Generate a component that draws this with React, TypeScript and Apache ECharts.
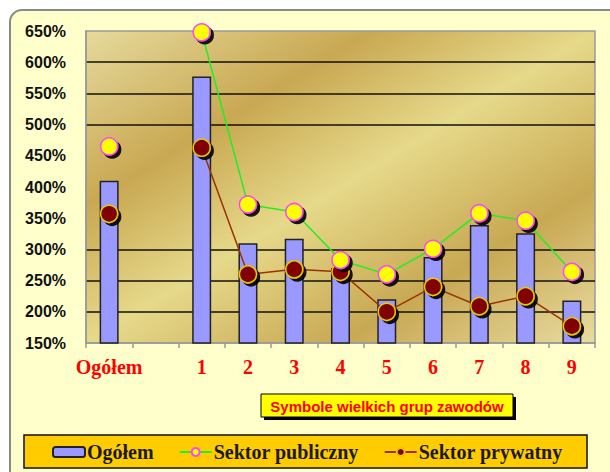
import React, { useEffect, useRef } from "react";
import * as echarts from "echarts";

const CATEGORIES = ["Ogółem", "", "1", "2", "3", "4", "5", "6", "7", "8", "9"];
const OGOLEM = [410, null, 577, 310, 317, 270, 220, 288, 339, 326, 218];
const SEKTOR_PUBLICZNY = [465, null, 648, 372, 360, 283, 260, 301, 358, 346, 264];
const SEKTOR_PRYWATNY = [357, null, 463, 260, 268, 264, 200, 240, 209, 225, 177];
const SERIES_NAMES = ["Ogółem", "Sektor publiczny", "Sektor prywatny"];
const Y_MIN = 150;
const Y_MAX = 650;
const Y_STEP = 50;
const X_TITLE = "Symbole wielkich grup zawodów";

export default function App() {
  const ref = useRef<HTMLDivElement>(null);
  useEffect(() => {
    if (!ref.current) return;
    const chart = echarts.init(ref.current, null, { renderer: "svg" });
    const T = "rgba(0,0,0,0)";
    const G = "#111";
    const markerShadow = {
      shadowColor: "rgba(0,0,0,0.9)",
      shadowBlur: 1,
      shadowOffsetX: 3,
      shadowOffsetY: 3,
    };
    chart.setOption({
      animation: false,
      backgroundColor: "#ffffff",
      graphic: [
        {
          type: "rect",
          z: -10,
          shape: { x: 10, y: 10, width: 640, height: 500, r: 12 },
          style: { fill: "#FFFFCC", stroke: "#8a8a8a", lineWidth: 2 },
          silent: true,
        },
        {
          type: "rect",
          z: 1,
          shape: { x: 264, y: 397, width: 252, height: 23 },
          style: { fill: "#000" },
          silent: true,
        },
        {
          type: "rect",
          z: 2,
          shape: { x: 261, y: 394, width: 252, height: 23 },
          style: { fill: "#FFFF00", stroke: "#000", lineWidth: 1 },
          silent: true,
        },
        {
          type: "text",
          z: 3,
          x: 387,
          y: 406,
          style: {
            text: X_TITLE,
            fill: "#FF0000",
            font: "bold 15px 'Liberation Sans', Arial, sans-serif",
            align: "center",
            verticalAlign: "middle",
          },
          silent: true,
        },
        {
          type: "rect",
          z: 1,
          shape: { x: 24, y: 435, width: 563, height: 33 },
          style: { fill: "#FFCC00", stroke: "#111", lineWidth: 1.5 },
          silent: true,
        },
      ],
      legend: {
        data: SERIES_NAMES,
        left: 47,
        top: 437,
        itemWidth: 32,
        itemHeight: 10,
        itemGap: 25,
        z: 5,
        textStyle: {
          fontFamily: "'Liberation Serif', 'Times New Roman', serif",
          fontWeight: "bold",
          fontSize: 20,
          color: "#1a1a1a",
          padding: [0, 0, 0, -3],
        },
      },
      grid: {
        left: 86,
        right: 15,
        top: 31,
        bottom: 129,
        show: true,
        borderColor: "#999",
        borderWidth: 1.5,
        backgroundColor: {
          type: "linear",
          x: 0,
          y: 0,
          x2: 1,
          y2: 1,
          colorStops: [
            { offset: 0, color: "#E6DA9C" },
            { offset: 0.28, color: "#C9A852" },
            { offset: 0.5, color: "#E6D98A" },
            { offset: 0.75, color: "#C8A853" },
            { offset: 1, color: "#E8DCA0" },
          ],
        },
      },
      xAxis: {
        type: "category",
        data: CATEGORIES,
        axisLine: { lineStyle: { color: "#999", width: 1.5 } },
        axisTick: { show: true, length: 5, lineStyle: { color: "#999", width: 1.5 } },
        axisLabel: {
          interval: 0,
          margin: 14,
          color: "#FF0000",
          fontFamily: "'Liberation Serif', 'Times New Roman', serif",
          fontWeight: "bold",
          fontSize: 20,
        },
      },
      yAxis: {
        type: "value",
        min: Y_MIN,
        max: Y_MAX,
        interval: Y_STEP,
        axisLine: { show: true, lineStyle: { color: "#999", width: 1.5 } },
        axisTick: { show: false },
        axisLabel: {
          formatter: "{value}%",
          margin: 20,
          color: "#111",
          fontFamily: "'Liberation Sans', Arial, sans-serif",
          fontWeight: "bold",
          fontSize: 16,
        },
        splitLine: {
          show: true,
          lineStyle: {
            width: 1.5,
            color: [T, G, G, G, T, T, T, G, G, G, T],
          },
        },
      },
      series: [
        {
          name: SERIES_NAMES[0],
          type: "bar",
          data: OGOLEM,
          barWidth: 19,
          z: 2,
          itemStyle: { color: "#9999FF", borderColor: "#222", borderWidth: 1.5 },
        },
        {
          name: SERIES_NAMES[1],
          type: "line",
          data: SEKTOR_PUBLICZNY,
          z: 4,
          connectNulls: false,
          showAllSymbol: true,
          symbol: "circle",
          symbolSize: 17,
          lineStyle: { color: "#22EE22", width: 1.5 },
          itemStyle: {
            color: "#FFFF00",
            borderColor: "#FF44FF",
            borderWidth: 1.5,
            ...markerShadow,
          },
        },
        {
          name: SERIES_NAMES[2],
          type: "line",
          data: SEKTOR_PRYWATNY,
          z: 3,
          connectNulls: false,
          showAllSymbol: true,
          symbol: "circle",
          symbolSize: 17,
          lineStyle: { color: "#993300", width: 1.5 },
          itemStyle: {
            color: "#800000",
            borderColor: "#E6C800",
            borderWidth: 1.5,
            ...markerShadow,
          },
        },
      ],
    });
    return () => chart.dispose();
  }, []);
  return (
    <div
      ref={ref}
      style={{ position: "absolute", left: 0, top: 0, width: 610, height: 472 }}
    />
  );
}
